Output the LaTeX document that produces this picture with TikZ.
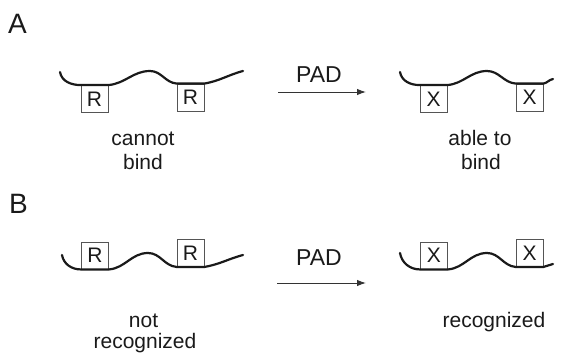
\documentclass[tikz,border=0pt]{standalone}
\usepackage{fontspec}
\setmainfont{Liberation Sans}
\usetikzlibrary{arrows.meta}
\definecolor{ink}{HTML}{1A1A1A}
\definecolor{boxline}{HTML}{555555}
\definecolor{arrowline}{HTML}{333333}
\tikzset{
  strand/.style={draw=ink, line width=2.2pt, line cap=round, line join=round},
  site/.style={draw=boxline, line width=0.9pt, minimum width=27pt, minimum height=27pt, inner sep=0pt,
    font=\fontsize{21}{24}\selectfont, text=ink},
  lbl/.style={font=\fontsize{21}{24}\selectfont, text=ink, align=center, inner sep=0pt, anchor=base},
  padlbl/.style={font=\fontsize{23}{26}\selectfont, text=ink, inner sep=0pt, anchor=base},
  panel/.style={font=\fontsize{28}{30}\selectfont, text=ink, inner sep=0pt, anchor=base west},
  react/.style={draw=arrowline, line width=1pt, -{Latex[length=9pt,width=6.5pt]}}
}
\begin{document}
\begin{tikzpicture}[x=1pt,y=-1pt]
\useasboundingbox (0,0) rectangle (579,356);
% panel letters
\node[panel] (pa) at (8,33) {A};
\node[panel] (pb) at (9,213) {B};
% ---- panel A ----
\node[site] (a1) at (94.5,99) {R};
\node[site] (a2) at (190.5,97.5) {R};
\node[site] (a3) at (433.5,99) {X};
\node[site] (a4) at (529.5,97.5) {X};
\draw[strand] (60,72) to[out=-80,in=180] (a1.north west) -- (a1.north east)
  to[out=5,in=180] (150,71) to[out=0,in=175] (a2.north west) -- (a2.north east)
  to[out=10,in=195] (243,71);
\draw[strand] (400,72) to[out=-80,in=180] (a3.north west) -- (a3.north east)
  to[out=5,in=180] (487,71) to[out=0,in=175] (a4.north west) -- (a4.north east)
  to[out=10,in=190] (553,79);
\node[padlbl] (padA) at (319,82) {PAD};
\coordinate (arA1) at (278,92);
\coordinate (arA2) at (366,92);
\draw[react] (arA1) -- (arA2);
\node[lbl] (la1) at (143,145) {cannot};
\node[lbl] (la2) at (143,169) {bind};
\node[lbl] (la3) at (480,145) {able to};
\node[lbl] (la4) at (481,169) {bind};
% ---- panel B ----
\node[site] (b1) at (95,255.5) {R};
\node[site] (b2) at (190.5,253) {R};
\node[site] (b3) at (434,255.5) {X};
\node[site] (b4) at (529.5,253) {X};
\draw[strand] (62,255) to[out=-80,in=180] (b1.south west) -- (b1.south east)
  to[out=5,in=180] (148,253) to[out=0,in=175] (b2.south west) -- (b2.south east)
  to[out=10,in=195] (243,255);
\draw[strand] (400,253) to[out=-80,in=180] (b3.south west) -- (b3.south east)
  to[out=5,in=180] (487,253) to[out=0,in=175] (b4.south west) -- (b4.south east)
  to[out=10,in=190] (553,264);
\node[padlbl] (padB) at (319,265) {PAD};
\coordinate (arB1) at (277,283);
\coordinate (arB2) at (366,283);
\draw[react] (arB1) -- (arB2);
\node[lbl] (lb1) at (143.5,327) {not};
\node[lbl] (lb2) at (145,348) {recognized};
\node[lbl] (lb3) at (494,327) {recognized};
\end{tikzpicture}
\end{document}
